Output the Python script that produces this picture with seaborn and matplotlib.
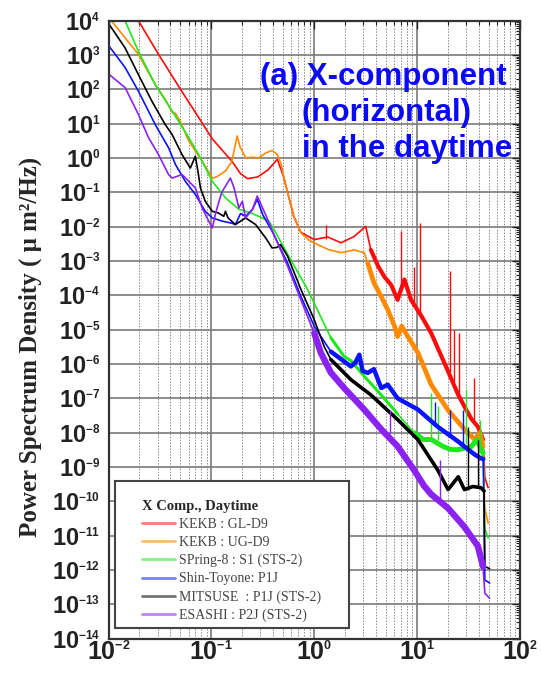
import numpy as np
import pandas as pd
import matplotlib
matplotlib.use("Agg")
import matplotlib.pyplot as plt
import matplotlib._mathtext as mathtext_core
from matplotlib.lines import Line2D
from matplotlib.patches import Rectangle
from matplotlib.ticker import LogLocator, FuncFormatter, NullFormatter
import seaborn as sns

# ---------------------------------------------------------------
# X-component ground-motion PSD, daytime.  Frequency in Hz,
# power spectral density in um^2/Hz.
# ---------------------------------------------------------------
kekb_gl_f = [0.0178, 0.0195, 0.0306, 0.0501, 0.0708, 0.102, 0.158, 0.192, 0.224, 0.282,
             0.355, 0.437, 0.501, 0.631, 0.741, 1.0, 1.35, 1.82, 2.45, 3.16,
             3.55, 4.17, 4.79, 5.6, 6.46, 7.52, 8.71, 11.0, 13.7, 18.6,
             25.1, 28.8, 33.7, 38.9, 43.7, 45.5, 49.0]
kekb_gl_psd = [1.55e4, 1.0e4, 1.05e3, 1.0e2, 2.0e1, 3.6, 0.81, 0.35, 0.25, 0.28,
               0.45, 0.91, 0.30, 2.0e-2, 6.8e-3, 4.2e-3, 5.0e-3, 3.4e-3, 5.2e-3, 1.02e-2,
               2.1e-3, 7.1e-4, 3.5e-4, 2.0e-4, 7.4e-5, 2.9e-4, 7.4e-5, 2.5e-5, 7.9e-6, 1.0e-6,
               1.26e-7, 5.8e-8, 2.5e-8, 1.5e-8, 6.3e-9, 5.0e-10, 2.5e-10]
kekb_gl_spike_f = [1.29, 6.98, 9.4, 10.7, 20.7, 23.0, 25.7, 36.0]
kekb_gl_spike_lo = [4.5e-3, 1.6e-4, 5.0e-5, 2.5e-5, 6.0e-7, 3.0e-7, 1.2e-7, 2.0e-8]
kekb_gl_spike_hi = [1.15e-2, 7.4e-3, 6.5e-4, 1.3e-2, 5.0e-4, 1.0e-5, 8.0e-6, 4.0e-7]

kekb_ug_f = [0.010, 0.0107, 0.0195, 0.0284, 0.0355, 0.0417, 0.0447, 0.0501, 0.0603, 0.0813,
             0.102, 0.112, 0.126, 0.137, 0.158, 0.178, 0.191, 0.200, 0.215, 0.251,
             0.288, 0.339, 0.389, 0.437, 0.479, 0.507, 0.562, 0.635, 0.741, 0.891,
             1.16, 1.41, 1.82, 2.45, 3.06, 3.31, 3.80, 4.47, 5.18, 6.03,
             6.46, 7.08, 8.13, 10.2, 13.7, 20.0, 28.8, 36.3, 40.7, 43.7,
             45.5, 49.0]
kekb_ug_psd = [1.26e4, 9.8e3, 1.05e3, 1.38e2, 52, 21, 20, 11.2, 3.1, 0.81,
               0.26, 0.28, 0.35, 0.42, 0.79, 4.4, 2.0, 1.58, 1.02, 1.05,
               1.0, 1.41, 1.66, 1.26, 0.63, 0.26, 0.079, 0.020, 6.6e-3, 4.0e-3,
               2.7e-3, 2.1e-3, 1.74e-3, 2.1e-3, 1.74e-3, 8.7e-4, 2.3e-4, 9.3e-5, 3.8e-5, 1.26e-5,
               6.3e-6, 1.26e-5, 6.3e-6, 2.1e-6, 2.5e-7, 4.5e-8, 1.26e-8, 6.3e-9, 1.0e-8, 4.0e-9,
               6.3e-11, 2.3e-11]
kekb_ug_spike_f = []
kekb_ug_spike_lo = []
kekb_ug_spike_hi = []

spring8_f = [0.0138, 0.0145, 0.0195, 0.0284, 0.0417, 0.0603, 0.0752, 0.102, 0.137, 0.185,
             0.215, 0.251, 0.288, 0.363, 0.406, 0.589, 0.859, 1.45, 1.95, 2.27,
             3.06, 4.47, 5.6, 6.46, 9.4, 11.5, 13.7, 17.8, 21.4, 25.1,
             33.7, 38.0, 43.7, 45.5, 49.0]
spring8_psd = [1.41e4, 9.8e3, 1.29e3, 1.38e2, 23, 3.9, 1.26, 0.21, 0.069, 0.032,
               0.028, 0.024, 0.020, 0.0145, 8.3e-3, 1.1e-3, 1.5e-4, 5.8e-6, 1.66e-6, 1.26e-6,
               4.4e-7, 1.26e-7, 5.8e-8, 3.5e-8, 9.8e-9, 6.3e-9, 6.3e-9, 4.0e-9, 3.2e-9, 3.2e-9,
               4.0e-9, 6.3e-9, 2.5e-9, 1.6e-11, 8.5e-12]
spring8_spike_f = [13.7, 16.0, 30.0, 41.0]
spring8_spike_lo = [6.3e-9, 6.3e-9, 5.0e-9, 5.0e-9]
spring8_spike_hi = [1.4e-7, 6.0e-8, 1.8e-7, 2.4e-8]

toyone_f = [0.010, 0.0145, 0.0195, 0.0284, 0.0383, 0.0447, 0.0557, 0.0698, 0.0871, 0.102,
            0.127, 0.158, 0.171, 0.192, 0.215, 0.251, 0.279, 0.316, 0.389, 0.550,
            0.741, 1.0, 1.45, 2.27, 2.51, 2.74, 2.95, 3.31, 3.80, 4.47,
            5.18, 6.46, 10.2, 15.8, 25.1, 36.3, 41.7, 44.0, 45.5, 50.7]
toyone_psd = [1.9e3, 4.3e2, 89, 9.5, 2.0, 0.65, 0.21, 0.087, 0.028, 0.018,
              0.0145, 0.0126, 0.0115, 0.024, 0.020, 0.032, 0.063, 0.022, 7.4e-3, 8.7e-4,
              9.3e-5, 1.26e-5, 2.3e-6, 8.5e-7, 1.1e-6, 1.86e-6, 6.3e-7, 5.5e-7, 7.1e-7, 2.0e-7,
              2.5e-7, 1.0e-7, 4.7e-8, 1.5e-8, 5.5e-9, 2.3e-9, 1.8e-9, 1.7e-9, 5.1e-13, 4.2e-13]
toyone_spike_f = [14.8, 20.7, 28.2]
toyone_spike_lo = [1.6e-8, 8.0e-9, 3.5e-9]
toyone_spike_hi = [8.0e-8, 4.7e-8, 4.7e-8]

mitsuse_f = [0.010, 0.0145, 0.0195, 0.0263, 0.0355, 0.0414, 0.0518, 0.0624, 0.0698, 0.0741,
             0.0782, 0.0871, 0.102, 0.117, 0.132, 0.137, 0.145, 0.171, 0.215, 0.269,
             0.337, 0.389, 0.437, 0.471, 0.550, 0.741, 1.0, 1.25, 1.45, 2.27,
             3.55, 6.46, 10.2, 15.8, 20.0, 25.1, 28.8, 34.7, 41.7, 44.7,
             45.5, 50.7]
mitsuse_psd = [8.3e3, 1.6e3, 2.7e2, 46, 9.5, 4.9, 1.26, 0.51, 1.12, 0.40,
               0.135, 0.055, 0.028, 0.025, 0.020, 0.028, 0.018, 0.0115, 0.018, 0.0115,
               4.7e-3, 2.4e-3, 2.5e-3, 3.0e-3, 1.38e-3, 1.5e-4, 1.95e-5, 3.2e-6, 1.35e-6, 3.5e-7,
               1.26e-7, 2.4e-8, 6.2e-9, 8.3e-10, 2.2e-10, 5.2e-10, 2.2e-10, 2.7e-10, 2.5e-10, 2.0e-10,
               1.26e-12, 1.1e-12]
mitsuse_spike_f = [31.3, 38.9]
mitsuse_spike_lo = [2.2e-10, 2.7e-10]
mitsuse_spike_hi = [1.5e-8, 6.3e-9]

esashi_f = [0.010, 0.0145, 0.0195, 0.0245, 0.0306, 0.0383, 0.0417, 0.0518, 0.0646, 0.0698,
            0.0813, 0.0942, 0.102, 0.110, 0.126, 0.153, 0.166, 0.185, 0.200, 0.215,
            0.251, 0.279, 0.337, 0.389, 0.550, 0.741, 1.0, 1.16, 1.45, 1.95,
            3.06, 4.47, 6.46, 9.4, 11.7, 13.7, 20.0, 28.8, 38.9, 43.7,
            45.5, 50.7]
esashi_psd = [2.8e2, 1.12e2, 18.6, 3.9, 1.26, 0.33, 0.26, 0.33, 0.17, 0.135,
              0.035, 0.0145, 9.1e-3, 0.025, 0.10, 0.26, 0.135, 0.035, 0.055, 0.018,
              0.032, 0.078, 0.022, 7.9e-3, 7.1e-4, 7.4e-5, 7.9e-6, 2.1e-6, 5.6e-7, 2.0e-7,
              4.7e-8, 1.26e-8, 4.0e-9, 7.9e-10, 2.8e-10, 1.6e-10, 6.3e-11, 1.8e-11, 5.0e-12, 1.26e-12,
              2.1e-13, 1.5e-13]
esashi_spike_f = [5.4, 16.6]
esashi_spike_lo = [1.0e-8, 1.1e-10]
esashi_spike_hi = [4.7e-8, 1.6e-9]

station_labels = ["KEKB : GL-D9", "KEKB : UG-D9", "SPring-8 : S1 (STS-2)",
                  "Shin-Toyone: P1J", "MITSUSE  : P1J (STS-2)", "ESASHI : P2J (STS-2)"]
legend_title = "X Comp., Daytime"
panel_title = ["(a) X-component", "(horizontal)", "in the daytime"]
y_label = "Power Spectrum Density ( \u03bc m\u00b2/Hz)"

series = [
    (kekb_gl_f, kekb_gl_psd, kekb_gl_spike_f, kekb_gl_spike_lo, kekb_gl_spike_hi),
    (kekb_ug_f, kekb_ug_psd, kekb_ug_spike_f, kekb_ug_spike_lo, kekb_ug_spike_hi),
    (spring8_f, spring8_psd, spring8_spike_f, spring8_spike_lo, spring8_spike_hi),
    (toyone_f, toyone_psd, toyone_spike_f, toyone_spike_lo, toyone_spike_hi),
    (mitsuse_f, mitsuse_psd, mitsuse_spike_f, mitsuse_spike_lo, mitsuse_spike_hi),
    (esashi_f, esashi_psd, esashi_spike_f, esashi_spike_lo, esashi_spike_hi),
]
colors = ["#ff0a0a", "#ff8a00", "#1ee81e", "#0a14ff", "#000000", "#8c22f2"]
# heavier strokes where the measured spectra are noisy: (f_min, f_max, width)
noisy_bands = [
    [(3.3, 44.0, 3.0)],
    [(3.3, 44.0, 3.4)],
    [(1.3, 9.0, 2.2), (9.0, 44.0, 3.6)],
    [(1.4, 44.0, 3.2)],
    [(1.4, 45.0, 2.6)],
    [(1.0, 44.0, 4.6)],
]

sns.set_style("white")
plt.rcParams.update({
    "mathtext.fontset": "custom",
    "mathtext.bf": "Liberation Sans:bold",
    "mathtext.rm": "Liberation Sans",
    "mathtext.it": "Liberation Sans:italic",
})
# small exponents on the decade labels
mathtext_core.SHRINK_FACTOR = 0.5

fig = plt.figure(figsize=(5.41, 6.77), dpi=100)
ax = fig.add_axes([0.2006, 0.0566, 0.7606, 0.9129])
ax.set_xscale("log")
ax.set_yscale("log")

for (f, p, sf, slo, shi), color, bands in zip(series, colors, noisy_bands):
    df = pd.DataFrame({"freq": f, "psd": p})
    sns.lineplot(data=df, x="freq", y="psd", color=color, linewidth=1.2,
                 estimator=None, sort=False, ax=ax, zorder=2)
    for lo, hi, lw in bands:
        sub = df[(df["freq"] >= lo) & (df["freq"] <= hi)]
        sns.lineplot(data=sub, x="freq", y="psd", color=color, linewidth=lw,
                     estimator=None, sort=False, ax=ax, zorder=2)
    if sf:
        ax.vlines(sf, slo, shi, color=color, linewidth=1.0, zorder=2)

ax.set_xlim(1e-2, 1e2)
ax.set_ylim(1e-14, 1e4)
ax.set_xlabel("")

# axes, ticks and grid
ax.xaxis.set_major_locator(LogLocator(base=10, numticks=10))
ax.xaxis.set_minor_locator(LogLocator(base=10, subs=np.arange(2, 10), numticks=100))
ax.yaxis.set_major_locator(LogLocator(base=10, numticks=30))
ax.yaxis.set_minor_locator(LogLocator(base=10, subs=np.arange(2, 10), numticks=300))
decade_fmt = FuncFormatter(lambda v, pos: r"$\mathbf{10^{%d}}$" % int(round(np.log10(v))))
ax.xaxis.set_major_formatter(decade_fmt)
ax.yaxis.set_major_formatter(decade_fmt)
ax.xaxis.set_minor_formatter(NullFormatter())
ax.yaxis.set_minor_formatter(NullFormatter())

ax.tick_params(which="both", direction="in", top=True, right=True, colors="#222222")
ax.tick_params(which="major", length=6, width=1.0)
ax.tick_params(which="minor", length=3, width=0.8)
ax.tick_params(axis="x", labelsize=18, pad=2)
ax.tick_params(axis="y", labelsize=17, pad=6)

ax.grid(True, which="major", color="#7a7a7a", linewidth=1.2, linestyle="-")
ax.grid(True, which="minor", axis="x", color="#8a8a8a", linewidth=0.7, linestyle=(0, (1.5, 1.5)))
ax.set_axisbelow(True)
for s in ax.spines.values():
    s.set_color("#333333")
    s.set_linewidth(1.6)

ax.set_ylabel(y_label, fontfamily="Liberation Serif", fontweight="bold", fontsize=18)
ax.yaxis.set_label_coords(-0.162, 0.472)

# panel title
title_pos = [(0.368, 0.896), (0.470, 0.837), (0.470, 0.780)]
for (tx, ty), line in zip(title_pos, panel_title):
    ax.text(tx, ty, line, transform=ax.transAxes, color="#0a0af5", fontsize=22.5,
            fontweight="bold", fontfamily="Liberation Sans", ha="left", va="baseline", zorder=5)

# legend with its own frame
ax.add_patch(Rectangle((0.0158, 0.0173), 0.5687, 0.2379, transform=ax.transAxes,
                       facecolor="white", edgecolor="#444444", linewidth=1.5, zorder=4))
handles = [Line2D([], [], color=c, linewidth=2.0, alpha=0.55) for c in colors]
leg = ax.legend(handles, station_labels, title=legend_title, loc="upper left",
                bbox_to_anchor=(0.0644, 0.2358), frameon=False, borderpad=0,
                prop={"family": "Liberation Serif", "size": 10},
                title_fontproperties={"family": "Liberation Serif", "weight": "bold", "size": 10.5},
                handlelength=2.4, handletextpad=0.3, labelspacing=0.36, alignment="left")
for t in leg.get_texts():
    t.set_color("#444444")
leg.set_zorder(6)

fig.savefig("out.png", dpi=100)
